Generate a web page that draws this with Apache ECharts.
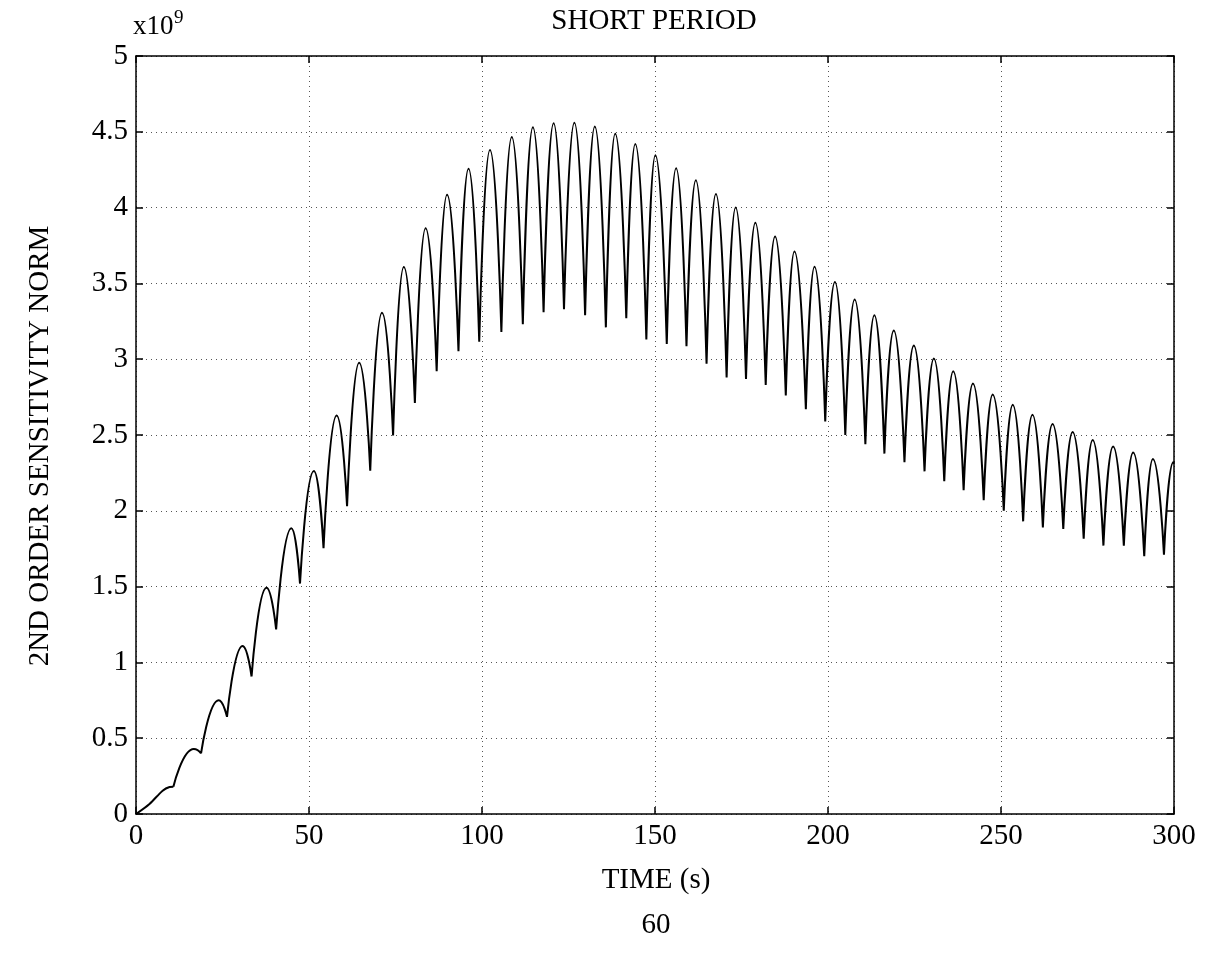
<!DOCTYPE html>
<html>
<head>
<meta charset="utf-8">
<script src="https://cdn.jsdelivr.net/npm/echarts@6/dist/echarts.min.js"></script>
<style>
html,body{margin:0;padding:0;background:#ffffff;}
#chart{width:1206px;height:957px;}
</style>
</head>
<body>
<div id="chart"></div>
<script>
// ---- Data (time in s, norm in units of 1e9) ----
// initial rise before the first cusp
const leadT = [0, 3.9, 7.7, 9.7, 10.8];
const leadV = [0, 0.066, 0.154, 0.178, 0.18];
// cusp minima (troughs)
const troughT = [10.8, 18.8, 26.3, 33.4, 40.5, 47.4, 54.2, 61.0, 67.7, 74.3, 80.6, 86.9, 93.2, 99.2,
  105.6, 111.8, 117.8, 123.7, 129.8, 135.8, 141.7, 147.5, 153.4, 159.1, 164.9, 170.7, 176.3, 182.0,
  187.8, 193.6, 199.2, 205.0, 210.8, 216.3, 222.1, 227.9, 233.6, 239.2, 245.0, 250.8, 256.4, 262.1,
  268.0, 273.9, 279.6, 285.5, 291.4, 297.1];
const troughV = [0.18, 0.40, 0.641, 0.907, 1.217, 1.52, 1.754, 2.03, 2.265, 2.497, 2.711, 2.92, 3.053, 3.115,
  3.18, 3.23, 3.31, 3.33, 3.29, 3.21, 3.27, 3.13, 3.10, 3.085, 2.97, 2.88, 2.87, 2.83,
  2.76, 2.67, 2.59, 2.50, 2.44, 2.377, 2.32, 2.26, 2.195, 2.136, 2.07, 2.0, 1.93, 1.89,
  1.88, 1.816, 1.77, 1.77, 1.70, 1.71];
// arch maxima (peaks)
const peakT = [16.7, 23.9, 30.8, 37.7, 44.9, 51.4, 58.0, 64.5, 71.1, 77.4, 83.7, 89.9, 96.1, 102.3,
  108.6, 114.7, 120.7, 126.7, 132.6, 138.5, 144.3, 150.1, 156.1, 161.8, 167.6, 173.3, 179.0, 184.7,
  190.3, 196.1, 202.0, 207.7, 213.4, 219.0, 224.8, 230.6, 236.2, 241.9, 247.6, 253.4, 259.1, 264.9,
  270.7, 276.5, 282.4, 288.2, 293.9, 299.8];
const peakV = [0.429, 0.75, 1.109, 1.493, 1.885, 2.262, 2.628, 2.976, 3.307, 3.608, 3.864, 4.085, 4.257, 4.38,
  4.465, 4.53, 4.557, 4.56, 4.535, 4.487, 4.42, 4.345, 4.26, 4.18, 4.09, 4.0, 3.90, 3.81,
  3.71, 3.61, 3.51, 3.394, 3.29, 3.19, 3.09, 3.004, 2.92, 2.84, 2.767, 2.70, 2.633, 2.573,
  2.52, 2.467, 2.424, 2.384, 2.342, 2.32];
// last sample at the right edge
const endT = [300];
const endV = [2.31];

const xTickValues = [0, 50, 100, 150, 200, 250, 300];
const yTickValues = [0, 0.5, 1, 1.5, 2, 2.5, 3, 3.5, 4, 4.5, 5];

const titleText = 'SHORT PERIOD';
const xName = 'TIME (s)';
const yName = '2ND ORDER SENSITIVITY NORM';
const scaleText = 'x10';
const scaleExp = '9';
const pageNo = '60';

// ---- Build series data: each arch is its own smooth piece, cusps where arches meet ----
const leadData = leadT.map((t, i) => [t, leadV[i]]);
const archData = [];
for (let i = 0; i < peakT.length; i++) {
  const rT = (i + 1 < troughT.length) ? troughT[i + 1] : endT[0];
  const rV = (i + 1 < troughV.length) ? troughV[i + 1] : endV[0];
  archData.push([troughT[i], troughV[i]]);
  archData.push([peakT[i], peakV[i]]);
  archData.push([rT, rV]);
  archData.push([rT, null]);
}

const FONT = '"Liberation Serif", "Times New Roman", serif';
const chart = echarts.init(document.getElementById('chart'), null, {renderer: 'canvas'});

const gridL = 136, gridR = 32, gridT = 56, gridB = 143;

const axisCommon = {
  axisLine: {show: true, onZero: false, lineStyle: {color: '#000', width: 1.5}},
  axisTick: {show: true, inside: true, length: 7, lineStyle: {color: '#000', width: 1.5}},
};

chart.setOption({
  animation: false,
  backgroundColor: '#ffffff',
  grid: {left: gridL, right: gridR, top: gridT, bottom: gridB, containLabel: false},
  xAxis: [
    Object.assign({
      type: 'value', min: xTickValues[0], max: xTickValues[xTickValues.length - 1], interval: 50,
      position: 'bottom',
      axisLabel: {show: true, color: '#000', fontFamily: FONT, fontSize: 29, margin: 8},
      splitLine: {show: true, lineStyle: {color: '#555', width: 1, type: [1, 4]}}
    }, axisCommon),
    Object.assign({
      type: 'value', min: xTickValues[0], max: xTickValues[xTickValues.length - 1], interval: 50,
      position: 'top',
      axisLabel: {show: false},
      splitLine: {show: false}
    }, axisCommon)
  ],
  yAxis: [
    Object.assign({
      type: 'value', min: yTickValues[0], max: yTickValues[yTickValues.length - 1], interval: 0.5,
      position: 'left',
      axisLabel: {show: true, color: '#000', fontFamily: FONT, fontSize: 29, margin: 8},
      splitLine: {show: true, lineStyle: {color: '#555', width: 1, type: [1, 4]}}
    }, axisCommon),
    Object.assign({
      type: 'value', min: yTickValues[0], max: yTickValues[yTickValues.length - 1], interval: 0.5,
      position: 'right',
      axisLabel: {show: false},
      splitLine: {show: false}
    }, axisCommon)
  ],
  series: [
    {
      type: 'line', xAxisIndex: 0, yAxisIndex: 0, data: leadData,
      showSymbol: false, symbol: 'none', smooth: 0.3,
      lineStyle: {color: '#000', width: 2}, silent: true, z: 5
    },
    {
      type: 'line', xAxisIndex: 0, yAxisIndex: 0, data: archData,
      showSymbol: false, symbol: 'none', smooth: 0.55, smoothMonotone: 'x',
      connectNulls: false,
      lineStyle: {color: '#000', width: 2}, silent: true, z: 5
    }
  ],
  graphic: [
    {type: 'text', x: 654, y: 21, style: {text: titleText, font: '29px ' + FONT, fill: '#000', align: 'center', verticalAlign: 'middle'}},
    {type: 'text', x: 133, y: 27, style: {text: scaleText, font: '27px ' + FONT, fill: '#000', align: 'left', verticalAlign: 'middle'}},
    {type: 'text', x: 174, y: 18, style: {text: scaleExp, font: '19px ' + FONT, fill: '#000', align: 'left', verticalAlign: 'middle'}},
    {type: 'text', x: 656, y: 880, style: {text: xName, font: '29px ' + FONT, fill: '#000', align: 'center', verticalAlign: 'middle'}},
    {type: 'text', x: 656, y: 925, style: {text: pageNo, font: '29px ' + FONT, fill: '#000', align: 'center', verticalAlign: 'middle'}},
    {type: 'text', x: 40, y: 446, rotation: Math.PI / 2, style: {text: yName, font: '29px ' + FONT, fill: '#000', align: 'center', verticalAlign: 'middle'}}
  ]
});
</script>
</body>
</html>
